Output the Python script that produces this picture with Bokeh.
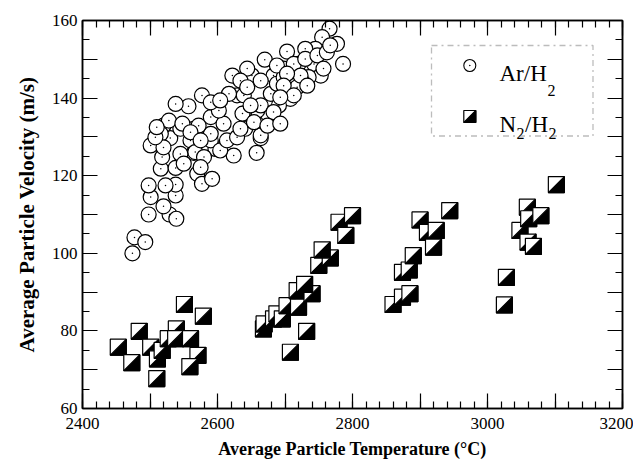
from bokeh.plotting import figure
from bokeh.models import FixedTicker, LinearAxis, BoxAnnotation, Label, ColumnDataSource
from bokeh.embed import file_html
from bokeh.resources import INLINE

# ---------------- data ----------------
ar_temp = [2474, 2477, 2493, 2498, 2529, 2539, 2501, 2498, 2520, 2538, 2538, 2523, 2516, 2538,
           2518, 2548, 2565, 2501, 2530, 2560, 2597, 2590, 2570, 2577, 2592, 2624, 2664, 2658,
           2622, 2629, 2577, 2557, 2538, 2590, 2609, 2545, 2565, 2590, 2520, 2516,
           2766, 2755, 2777, 2786, 2745, 2730, 2703, 2670, 2720, 2743, 2753, 2735, 2718, 2683,
           2651, 2679, 2708, 2691, 2674, 2659, 2639, 2639, 2641, 2664, 2698, 2644,
           2713, 2617, 2637, 2567, 2545, 2528, 2548, 2572, 2602, 2590, 2604, 2634, 2644, 2664,
           2688, 2698, 2688, 2560, 2575, 2580, 2604, 2614, 2629, 2575, 2550, 2520, 2508, 2510,
           2730, 2748, 2762, 2767, 2757, 2723, 2703, 2698, 2733, 2713, 2693, 2664, 2649, 2683,
           2654, 2674, 2693, 2634]
ar_vel = [100.0, 104.1, 102.9, 110.0, 110.0, 108.9, 114.5, 117.5, 112.1, 114.9, 117.7, 117.5, 121.8, 122.0,
          124.8, 124.8, 125.9, 127.8, 129.7, 129.1, 126.9, 129.1, 120.5, 117.9, 119.2, 125.2, 129.7, 125.9,
          145.8, 140.7, 140.7, 137.9, 138.5, 135.1, 133.4, 132.1, 132.1, 130.8, 132.9, 130.8,
          157.9, 155.7, 154.0, 148.8, 152.7, 152.7, 152.0, 149.9, 148.8, 148.8, 145.8, 145.4, 142.8, 145.8,
          145.8, 141.1, 139.8, 138.1, 136.0, 136.8, 140.7, 136.0, 132.1, 130.4, 147.6, 147.6,
          148.8, 141.1, 136.0, 126.1, 125.6, 134.2, 133.4, 132.9, 136.8, 138.9, 139.4, 144.5, 142.8, 144.5,
          143.7, 145.4, 148.4, 131.2, 129.1, 124.8, 126.5, 129.1, 129.9, 122.2, 123.1, 127.3, 129.9, 132.5,
          150.1, 151.0, 151.8, 153.6, 147.6, 145.8, 146.3, 143.2, 143.2, 140.7, 140.2, 138.1, 138.1, 136.4,
          133.8, 132.9, 133.4, 132.1]

n2_temp = [2453, 2473, 2484, 2501, 2510, 2511, 2518, 2527, 2539, 2538, 2560, 2551, 2579, 2571, 2559,
           2668, 2669, 2683, 2688, 2696, 2703, 2708, 2718, 2720, 2732, 2740, 2729, 2750, 2767, 2755,
           2780, 2790, 2800,
           2860, 2874, 2885, 2874, 2884, 2890, 2900, 2911, 2924, 2920, 2944,
           3025, 3028, 3048, 3059, 3061, 3079, 3060, 3068, 3102]
n2_vel = [75.8, 71.8, 79.9, 75.8, 67.7, 72.8, 75.0, 78.0, 80.5, 78.0, 78.0, 86.8, 83.8, 73.7, 70.8,
          80.5, 81.8, 83.1, 84.4, 83.1, 86.5, 74.5, 90.4, 86.1, 79.9, 89.6, 92.0, 96.9, 98.8, 100.9,
          108.0, 104.6, 109.7,
          86.8, 88.7, 89.6, 95.1, 95.7, 99.4, 108.6, 105.4, 105.9, 101.6, 111.0,
          86.7, 93.8, 105.9, 111.9, 108.9, 109.7, 102.9, 101.8, 117.7]

x_tick_labels = [2400, 2600, 2800, 3000, 3200]
y_tick_labels = [60, 80, 100, 120, 140, 160]
x_title = "Average Particle Temperature (°C)"
y_title = "Average Particle Velocity (m/s)"

# ---------------- layout / style ----------------
X0, X1, Y0, Y1 = 2400, 3200, 60, 160
FW, FH = 540, 388
FX, FY = 82, 20          # position of the frame's top-left corner in the picture
SERIF = "Liberation Serif"


def px2x(px):
    return X0 + (px - FX) / FW * (X1 - X0)


def py2y(py):
    return Y1 - (py - FY) / FH * (Y1 - Y0)


p = figure(x_range=(X0, X1), y_range=(Y0, Y1), frame_width=FW, frame_height=FH,
           min_border_left=FX, min_border_top=FY,
           min_border_right=11, min_border_bottom=50,
           output_backend="svg", toolbar_location=None)
p.grid.visible = False
p.outline_line_color = "black"
p.outline_line_width = 1.5

xt = FixedTicker(ticks=list(range(X0, X1 + 1, 100)), minor_ticks=list(range(X0, X1 + 1, 20)))
yt = FixedTicker(ticks=list(range(Y0, Y1 + 1, 10)), minor_ticks=list(range(Y0, Y1 + 1, 5)))
x_over = {t: (str(t) if t in x_tick_labels else "") for t in range(X0, X1 + 1, 100)}
y_over = {t: (str(t) if t in y_tick_labels else "") for t in range(Y0, Y1 + 1, 10)}


def style_axis(ax):
    ax.axis_line_width = 1.5
    ax.major_tick_in = 15
    ax.major_tick_out = 0
    ax.minor_tick_in = 7
    ax.minor_tick_out = 0
    ax.major_tick_line_width = 1.2
    ax.minor_tick_line_width = 1.2
    ax.major_label_text_font = SERIF
    ax.major_label_text_font_size = "17px"
    ax.major_label_text_color = "black"
    ax.axis_label_text_font = SERIF
    ax.axis_label_text_font_style = "bold"
    ax.axis_label_text_color = "black"


p.xaxis.ticker = xt
p.yaxis.ticker = yt
p.xaxis.major_label_overrides = x_over
p.yaxis.major_label_overrides = y_over
p.xaxis.axis_label = x_title
p.yaxis.axis_label = y_title
for ax in p.xaxis + p.yaxis:
    style_axis(ax)
p.xaxis.axis_label_text_font_size = "18px"
p.yaxis.axis_label_text_font_size = "21px"
p.xaxis.major_label_standoff = 9
p.yaxis.major_label_standoff = 5
p.xaxis.axis_label_standoff = 7
p.yaxis.axis_label_standoff = 10

top = LinearAxis(ticker=xt, major_label_overrides={t: "" for t in range(X0, X1 + 1, 100)})
right = LinearAxis(ticker=yt, major_label_overrides={t: "" for t in range(Y0, Y1 + 1, 10)})
for ax in (top, right):
    style_axis(ax)
    ax.major_label_standoff = 0
p.add_layout(top, "above")
p.add_layout(right, "right")


# ---------------- N2/H2 half-filled squares ----------------
def half_squares(xv, yv, half_px):
    hx = half_px / FW * (X1 - X0)
    hy = half_px / FH * (Y1 - Y0)
    xs, ys, fills = [], [], []
    for x, y in zip(xv, yv):
        xs.append([x - hx, x + hx, x + hx, x - hx]); ys.append([y - hy, y - hy, y + hy, y + hy]); fills.append("white")
        xs.append([x - hx, x + hx, x + hx]); ys.append([y - hy, y - hy, y + hy]); fills.append("black")
    return ColumnDataSource(dict(xs=xs, ys=ys, fill=fills))


p.patches(xs="xs", ys="ys", fill_color="fill", line_color="black", line_width=1.2,
          source=half_squares(n2_temp, n2_vel, 8))


# ---------------- Ar/H2 circles with a tiny centre dot (drawn point by point) ----------------
def dotted_circles(xv, yv, size):
    xs, ys, mk, sz = [], [], [], []
    for x, y in zip(xv, yv):
        xs += [x, x]; ys += [y, y]; mk += ["circle", "dot"]; sz += [size, 6]
    return ColumnDataSource(dict(x=xs, y=ys, marker=mk, size=sz))


p.scatter(x="x", y="y", marker="marker", size="size", fill_color="white",
          line_color="black", line_width=1.2, source=dotted_circles(ar_temp, ar_vel, 15))

# ---------------- legend (drawn by hand) ----------------
box = BoxAnnotation(left=px2x(431), right=px2x(592.5), top=py2y(45), bottom=py2y(135.5),
                    fill_color=None, line_color="#222222", line_width=1.3, line_dash="dashdot")
p.add_layout(box)

p.scatter(x="x", y="y", marker="marker", size="size", fill_color="white",
          line_color="black", line_width=1.1,
          source=dotted_circles([px2x(469.3)], [py2y(65)], 12))
p.patches(xs="xs", ys="ys", fill_color="fill", line_color="black", line_width=1.2,
          source=half_squares([px2x(469.3)], [py2y(116)], 6))


def lab(px, py, text, size):
    p.add_layout(Label(x=px2x(px), y=py2y(py), text=text, text_font=SERIF, text_font_size=size,
                       text_baseline="alphabetic", text_align="left", text_color="black"))


lab(499, 73.3, "Ar/H", "23px")
lab(547, 90, "2", "16px")
lab(499, 124, "N", "23px")
lab(516, 133, "2", "16px")
lab(524.5, 124, "/H", "23px")
lab(548, 133, "2", "16px")

open("out.html", "w").write(file_html(p, INLINE))
